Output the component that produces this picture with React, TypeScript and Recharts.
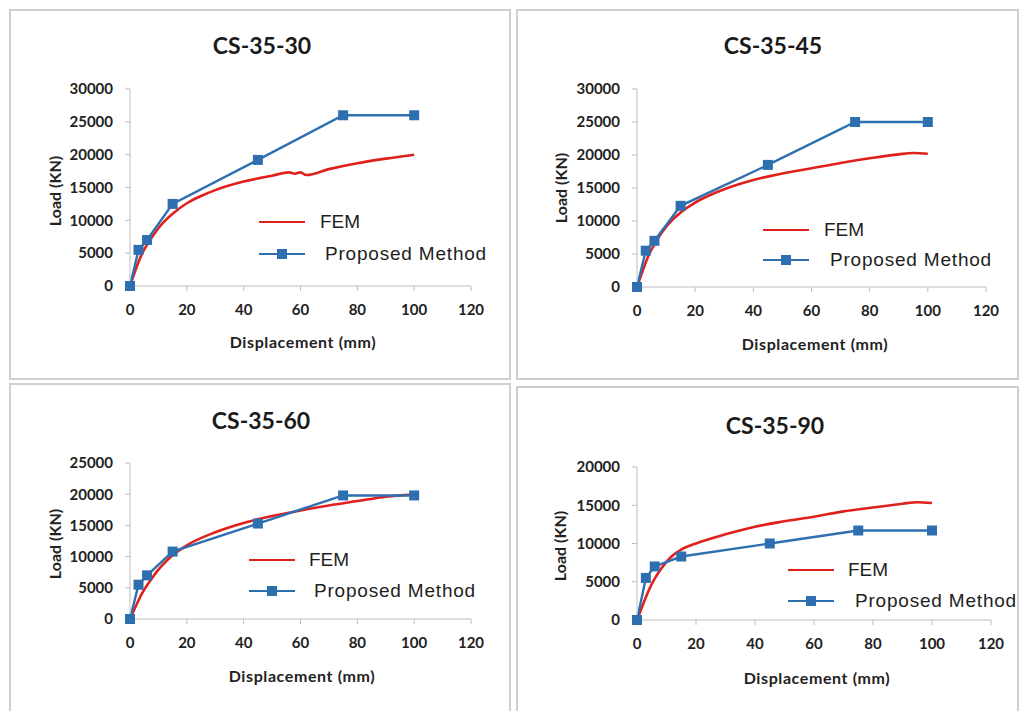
import React from 'react';
import { LineChart, Line, XAxis, YAxis } from 'recharts';

// displacement (mm) ticks shared by all four panels
const xTicks = [0, 20, 40, 60, 80, 100, 120];

// proposed method points (same displacements in every panel)
const pmDisp = [0, 3, 6, 15, 45, 75, 100];
const pmLoad30 = [0, 5500, 7000, 12500, 19200, 26000, 26000];
const pmLoad45 = [0, 5500, 7000, 12300, 18500, 25000, 25000];
const pmLoad60 = [0, 5500, 7000, 10800, 15300, 19800, 19800];
const pmLoad90 = [0, 5500, 7000, 8300, 10000, 11700, 11700];

// FEM curves
const femDisp30 = [0, 2, 4, 6, 8, 10, 12, 15, 20, 25, 30, 40, 50, 56, 58, 60, 62, 70, 80, 90, 100];
const femLoad30 = [0, 2500, 4700, 6300, 7600, 8800, 9800, 11000, 12600, 13700, 14600, 15900, 16800, 17300, 17100, 17300, 16900, 17800, 18700, 19400, 20000];
const femDisp45 = [0, 2, 4, 6, 8, 10, 12, 15, 20, 25, 30, 40, 50, 60, 70, 80, 90, 95, 100];
const femLoad45 = [0, 2500, 4800, 6500, 7900, 9100, 10100, 11300, 12800, 13900, 14800, 16200, 17200, 18000, 18800, 19500, 20100, 20300, 20200];
const femDisp60 = [0, 2, 4, 6, 8, 10, 12, 15, 20, 30, 40, 50, 60, 70, 80, 90, 100];
const femLoad60 = [0, 2000, 3900, 5400, 6700, 7900, 8900, 10200, 11800, 13900, 15400, 16500, 17400, 18200, 18900, 19600, 20000];
const femDisp90 = [0, 2, 4, 6, 8, 10, 12, 15, 20, 30, 40, 50, 60, 70, 80, 90, 95, 100];
const femLoad90 = [0, 2000, 3900, 5400, 6600, 7600, 8400, 9200, 10000, 11200, 12200, 12900, 13500, 14200, 14700, 15200, 15400, 15300];

const yTicks30 = [0, 5000, 10000, 15000, 20000, 25000, 30000];
const yTicks25 = [0, 5000, 10000, 15000, 20000, 25000];
const yTicks20 = [0, 5000, 10000, 15000, 20000];

const zip = (xs: number[], ys: number[]) => xs.map((x, i) => ({ x, y: ys[i] }));

const RED = '#e0201c';
const BLUE = '#2e6fb0';
const AXIS = '#bdbdbd';

const panels = [
  {
    title: 'CS-35-30', pm: zip(pmDisp, pmLoad30), fem: zip(femDisp30, femLoad30), yTicks: yTicks30,
    box: { left: 9, top: 9, width: 502, height: 371 }, plot: { l: 130, t: 89, r: 471, b: 286 },
    titlePos: [260, 43], ylab: [52, 189], xlab: [301, 339],
    legend: { lineX: 257, femY: 220, femTextX: 318, pmY: 252, pmTextX: 323 },
  },
  {
    title: 'CS-35-45', pm: zip(pmDisp, pmLoad45), fem: zip(femDisp45, femLoad45), yTicks: yTicks30,
    box: { left: 516, top: 9, width: 503, height: 371 }, plot: { l: 637, t: 89, r: 986, b: 287 },
    titlePos: [771, 43], ylab: [558, 186], xlab: [813, 341],
    legend: { lineX: 761, femY: 228, femTextX: 822, pmY: 258, pmTextX: 828 },
  },
  {
    title: 'CS-35-60', pm: zip(pmDisp, pmLoad60), fem: zip(femDisp60, femLoad60), yTicks: yTicks25,
    box: { left: 9, top: 383, width: 502, height: 340 }, plot: { l: 130, t: 463, r: 471, b: 619 },
    titlePos: [259, 418], ylab: [52, 542], xlab: [300, 673],
    legend: { lineX: 247, femY: 558, femTextX: 307, pmY: 589, pmTextX: 312 },
  },
  {
    title: 'CS-35-90', pm: zip(pmDisp, pmLoad90), fem: zip(femDisp90, femLoad90), yTicks: yTicks20,
    box: { left: 516, top: 386, width: 503, height: 340 }, plot: { l: 637, t: 467, r: 991, b: 620 },
    titlePos: [773, 423], ylab: [557, 544], xlab: [815, 675],
    legend: { lineX: 786, femY: 568, femTextX: 846, pmY: 599, pmTextX: 853 },
  },
];

const tickStyle = { fill: '#222', fontSize: 15, fontWeight: 700, fontFamily: 'Lato, sans-serif' };

const SquareDot = (props: any) => {
  const { cx, cy, index } = props;
  if (cx == null || cy == null) return <g key={index} />;
  return <rect key={index} x={cx - 5} y={cy - 5} width={10} height={10} fill={BLUE} />;
};

function Panel({ p }: { p: (typeof panels)[number] }) {
  const { box, plot, legend } = p;
  const X_H = 30;
  const rel = (x: number, y: number) => ({ left: x - box.left, top: y - box.top });
  const center: React.CSSProperties = { position: 'absolute', whiteSpace: 'nowrap', transform: 'translate(-50%, -50%)' };
  const legendText: React.CSSProperties = {
    position: 'absolute', whiteSpace: 'nowrap', transform: 'translateY(-50%)',
    fontFamily: '"Liberation Sans", Arial, sans-serif', fontSize: 19, color: '#1e1e1e',
  };
  return (
    <div
      style={{
        position: 'absolute', left: box.left, top: box.top, width: box.width, height: box.height,
        boxSizing: 'border-box', border: '2px solid #cfcfcf', background: '#fff',
      }}
    >
      <div style={{ position: 'absolute', left: -2, top: -2 }}>
        <LineChart
          width={box.width}
          height={box.height}
          margin={{
            top: plot.t - box.top,
            right: box.left + box.width - plot.r,
            left: 0,
            bottom: box.top + box.height - plot.b - X_H,
          }}
        >
          <XAxis
            type="number"
            dataKey="x"
            domain={[0, 120]}
            ticks={xTicks}
            height={X_H}
            stroke={AXIS}
            tickSize={5}
            tickMargin={13}
            tick={tickStyle}
            allowDuplicatedCategory={false}
          />
          <YAxis
            type="number"
            dataKey="y"
            domain={[0, p.yTicks[p.yTicks.length - 1]]}
            ticks={p.yTicks}
            width={plot.l - box.left}
            stroke={AXIS}
            tickSize={5}
            tickMargin={12}
            tick={tickStyle}
          />
          <Line
            data={p.fem}
            dataKey="y"
            type="monotone"
            stroke={RED}
            strokeWidth={2.6}
            dot={false}
            isAnimationActive={false}
          />
          <Line
            data={p.pm}
            dataKey="y"
            type="linear"
            stroke={BLUE}
            strokeWidth={2.4}
            dot={SquareDot}
            activeDot={false}
            isAnimationActive={false}
          />
        </LineChart>
      </div>
      <div
        style={{
          ...center, ...rel(p.titlePos[0], p.titlePos[1]),
          fontFamily: 'Lato, sans-serif', fontWeight: 700, fontSize: 23, color: '#1a1a1a',
        }}
      >
        {p.title}
      </div>
      <div
        style={{
          ...center, ...rel(p.ylab[0], p.ylab[1]), transform: 'translate(-50%, -50%) rotate(-90deg)',
          fontFamily: 'Lato, sans-serif', fontWeight: 700, fontSize: 16, color: '#222',
        }}
      >
        Load (KN)
      </div>
      <div
        style={{
          ...center, ...rel(p.xlab[0], p.xlab[1]),
          fontFamily: 'Lato, sans-serif', fontWeight: 700, fontSize: 16, letterSpacing: 0.6, color: '#222',
        }}
      >
        Displacement (mm)
      </div>
      <div style={{ position: 'absolute', ...rel(legend.lineX, legend.femY - 1.3), width: 46, height: 2.6, background: RED }} />
      <div style={{ ...legendText, ...rel(legend.femTextX, legend.femY) }}>FEM</div>
      <div style={{ position: 'absolute', ...rel(legend.lineX, legend.pmY - 1.2), width: 46, height: 2.4, background: BLUE }} />
      <div style={{ position: 'absolute', ...rel(legend.lineX + 18, legend.pmY - 5), width: 10, height: 10, background: BLUE }} />
      <div style={{ ...legendText, ...rel(legend.pmTextX, legend.pmY), letterSpacing: 0.8 }}>Proposed Method</div>
    </div>
  );
}

export default function App() {
  return (
    <div style={{ position: 'absolute', left: 0, top: 0, width: 1022, height: 711, background: '#fff', overflow: 'hidden' }}>
      {panels.map((p) => (
        <Panel key={p.title} p={p} />
      ))}
    </div>
  );
}
